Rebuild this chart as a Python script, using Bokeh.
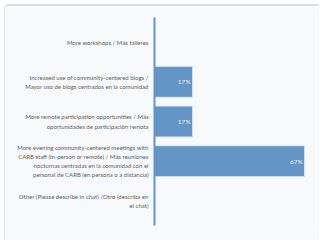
from bokeh.plotting import figure
from bokeh.models import ColumnDataSource, FactorRange, Range1d
from bokeh.embed import file_html
from bokeh.resources import INLINE
from bokeh.core.properties import value

categories = [
    "More workshops / Más talleres",
    "Increased use of community-centered blogs /\nMayor uso de blogs centrados en la comunidad",
    "More remote participation opportunities / Más\noportunidades de participación remota",
    "More evening community-centered meetings with\nCARB staff (in-person or remote) / Más reuniones\nnocturnas centradas en la comunidad con el\npersonal de CARB (en persona o a distancia)",
    "Other (Please describe in chat) /Otro (describa en\nel chat)",
]
values = [0, 17, 17, 67, 0]
value_labels = ["", "17%", "17%", "67%", ""]

FONT = "Lato"
CARD = "#f8f9fb"
BAR = "#6495c7"

src = ColumnDataSource(dict(cat=categories, val=values, lab=value_labels))

p = figure(
    width=315, height=236,
    y_range=FactorRange(factors=list(reversed(categories)), range_padding=0.048),
    x_range=Range1d(0, 72.3),
    output_backend="svg", toolbar_location=None,
    min_border_top=11, min_border_bottom=17, min_border_left=149, min_border_right=4,
    margin=(4, 0, 0, 4),
    styles={"border-top": "2px solid #d4dce7", "border-left": "1px solid #dbe2eb",
            "border-top-left-radius": "5px"},
)
p.background_fill_color = CARD
p.border_fill_color = CARD
p.outline_line_color = None
p.grid.visible = False
p.xaxis.visible = False

p.hbar(y="cat", right="val", left=0, height=0.78, source=src,
       fill_color=BAR, line_color="#dce6f2", line_width=1)

p.text(x="val", y="cat", text="lab", source=src, x_offset=-2,
       text_align="right", text_baseline="middle", text_color="#eef3f9",
       text_font=value(FONT), text_font_size="6.5px")

ya = p.yaxis[0]
ya.axis_line_color = BAR
ya.axis_line_width = 2
ya.major_tick_line_color = None
ya.minor_tick_line_color = None
ya.major_tick_out = 0
ya.major_tick_in = 0
ya.major_label_standoff = 6
ya.major_label_text_font = FONT
ya.major_label_text_font_size = "6px"
ya.major_label_text_color = "#5a5e64"
ya.major_label_text_line_height = 1.3

open("out.html", "w").write(file_html(p, INLINE))
